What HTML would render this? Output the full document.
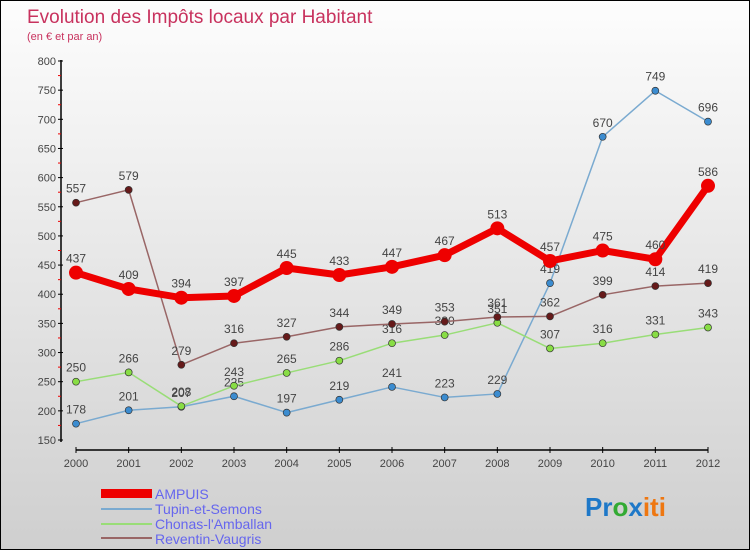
<!DOCTYPE html>
<html><head><meta charset="utf-8"><style>
html,body{margin:0;padding:0}
body{width:750px;height:550px;overflow:hidden;font-family:"Liberation Sans",sans-serif}
#wrap{position:relative;width:748px;height:548px;border:1px solid #000;background:linear-gradient(#fdfdfd,#cfcfcf)}
</style></head><body>
<div id="wrap">
<svg id="chart" width="748" height="548" xmlns="http://www.w3.org/2000/svg">
<text x="26" y="22" font-size="19" fill="#c8325e">Evolution des Impôts locaux par Habitant</text>
<text x="26" y="39" font-size="11" fill="#c8325e">(en € et par an)</text>
<g id="axes"></g><g id="series"></g>
<g font-size="14" fill="#6666ee">
<rect x="100" y="488" width="51" height="9" fill="#e00"/>
<text x="154" y="498" fill="#6666ee">AMPUIS</text>
<rect x="100" y="507" width="51" height="2" fill="#7aaad0"/>
<text x="154" y="513" fill="#6666ee">Tupin-et-Semons</text>
<rect x="100" y="522" width="51" height="2" fill="#99dd77"/>
<text x="154" y="528" fill="#6666ee">Chonas-l'Amballan</text>
<rect x="100" y="536" width="51" height="2" fill="#996666"/>
<text x="154" y="543" fill="#6666ee">Reventin-Vaugris</text>
</g>
<text x="584" y="515" font-size="26" font-weight="bold"><tspan fill="#1e78c8">Pr</tspan><tspan fill="#33aa33">o</tspan><tspan fill="#1e78c8">x</tspan><tspan fill="#ee7711">iti</tspan></text>
</svg>
</div>
<script>
const years=[2000,2001,2002,2003,2004,2005,2006,2007,2008,2009,2010,2011,2012];
const ampuis=[437,409,394,397,445,433,447,467,513,457,475,460,586];
const tupin=[178,201,207,225,197,219,241,223,229,419,670,749,696];
const chonas=[250,266,208,243,265,286,316,330,351,307,316,331,343];
const reventin=[557,579,279,316,327,344,349,353,361,362,399,414,419];
const yTicks=[150,200,250,300,350,400,450,500,550,600,650,700,750,800];
const NS="http://www.w3.org/2000/svg";
const X=i=>75+i*(632/12);
const Y=v=>439-(v-150)*(379/650);
function mk(tag,attrs,parent){const e=document.createElementNS(NS,tag);for(const k in attrs)e.setAttribute(k,attrs[k]);parent.appendChild(e);return e;}
const ax=document.getElementById('axes');
let a=mk('line',{x1:60,y1:59,x2:60,y2:441,stroke:'#000','stroke-width':1.5},ax);


a=mk('line',{x1:75,y1:449,x2:707,y2:449,stroke:'#000','stroke-width':1.5},ax);


yTicks.forEach(v=>{
 mk('line',{x1:57,x2:62,y1:Y(v),y2:Y(v),stroke:'#000'},ax);
 if(v<800)mk('line',{x1:57,x2:60,y1:Y(v+25),y2:Y(v+25),stroke:'#e00'},ax);
 const t=mk('text',{x:55,y:Y(v)+4,'font-size':11,'text-anchor':'end',fill:'#444'},ax);t.textContent=v;
 
 
});
years.forEach((yr,i)=>{
 mk('line',{x1:X(i),x2:X(i),y1:446,y2:452,stroke:'#000'},ax);
 const t=mk('text',{x:X(i),y:466,'font-size':11,'text-anchor':'middle',fill:'#444'},ax);t.textContent=yr;
 
 
});
const sg=document.getElementById('series');
function draw(name,data,color,dot,w,r){
 const g=mk('g',{},sg);
 
 
 const p=mk('polyline',{points:data.map((v,i)=>X(i)+','+Y(v)).join(' '),fill:'none',stroke:color,'stroke-width':w,'stroke-linejoin':'round'},g);
 
 
 data.forEach((v,i)=>{
  const c=mk('circle',{cx:X(i),cy:Y(v),r:r,fill:dot,stroke:'#333','stroke-width':r>5?0:0.7},g);
  
  
  const t=mk('text',{x:X(i),y:Y(v)-10,'font-size':12,'text-anchor':'middle',fill:'#444'},g);t.textContent=v;
  
  
 });
}
draw('tupin',tupin,'#7aaad0','#3b8cd0',1.5,3.5);
draw('chonas',chonas,'#99dd77','#88dd44',1.5,3.5);
draw('reventin',reventin,'#996666','#661a1a',1.5,3.5);
draw('ampuis',ampuis,'#ee0000','#ee0000',7,7);
</script>
</body></html>
